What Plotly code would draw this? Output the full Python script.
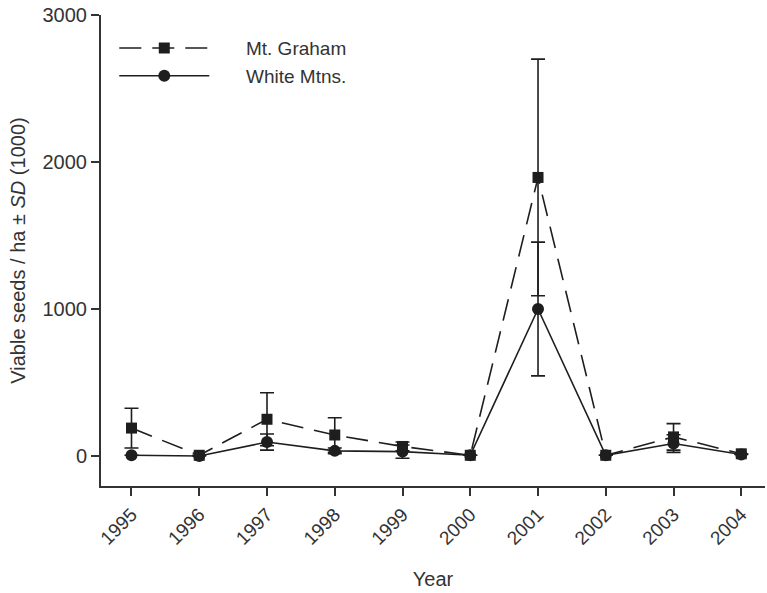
import plotly.graph_objects as go

years = [1995, 1996, 1997, 1998, 1999, 2000, 2001, 2002, 2003, 2004]
graham = [190, 5, 250, 143, 65, 5, 1895, 5, 130, 15]
graham_sd = [135, 0, 180, 117, 30, 0, 805, 0, 90, 0]
white = [5, 0, 95, 35, 30, 5, 1000, 5, 85, 10]
white_sd = [0, 0, 55, 20, 45, 0, 455, 0, 60, 0]
y_ticks = [0, 1000, 2000, 3000]

ink = "#1e1e1e"
txt = "#333333"
font = "Liberation Sans, Arial, sans-serif"
pad = "\u00a0" * 6

fig = go.Figure()
fig.add_trace(go.Scatter(
    x=years, y=graham, name=pad + "Mt. Graham", mode="lines+markers",
    line=dict(color=ink, width=1.6, dash="22px,11px"),
    marker=dict(symbol="square", size=11, color=ink),
    error_y=dict(type="data", array=graham_sd, visible=True, color=ink, thickness=1.6, width=7),
))
fig.add_trace(go.Scatter(
    x=years, y=white, name=pad + "White Mtns.", mode="lines+markers",
    line=dict(color=ink, width=1.6),
    marker=dict(symbol="circle", size=12, color=ink),
    error_y=dict(type="data", array=white_sd, visible=True, color=ink, thickness=1.6, width=7),
))

fig.update_layout(
    width=767, height=593,
    margin=dict(l=101, r=2, t=15, b=107),
    paper_bgcolor="white", plot_bgcolor="white",
    font=dict(family=font, size=20, color=txt),
    showlegend=True,
    legend=dict(x=0.02, y=0.97, xanchor="left", yanchor="top",
                bgcolor="rgba(0,0,0,0)", font=dict(size=19, color=txt),
                itemwidth=90, tracegroupgap=0),
    xaxis=dict(
        range=[1994.55, 2004.35], tickvals=years, ticktext=[str(y) for y in years],
        tickangle=-45, ticks="outside", ticklen=8, tickwidth=1.5, tickcolor="#333",
        showline=True, linecolor="#333", linewidth=2, mirror=False,
        showgrid=False, zeroline=False,
        title=dict(text="Year", font=dict(size=20, color=txt), standoff=24),
        tickfont=dict(size=19, color=txt),
    ),
    yaxis=dict(
        range=[-204, 3000], tickvals=y_ticks, ticks="outside", ticklen=8,
        tickwidth=1.5, tickcolor="#333",
        showline=True, linecolor="#333", linewidth=2, mirror=False,
        showgrid=False, zeroline=False,
        title=dict(text="Viable seeds / ha ± <i>SD</i> (1000)", font=dict(size=20, color=txt), standoff=12),
        tickfont=dict(size=20, color=txt),
    ),
)

fig.write_html("out.html")
